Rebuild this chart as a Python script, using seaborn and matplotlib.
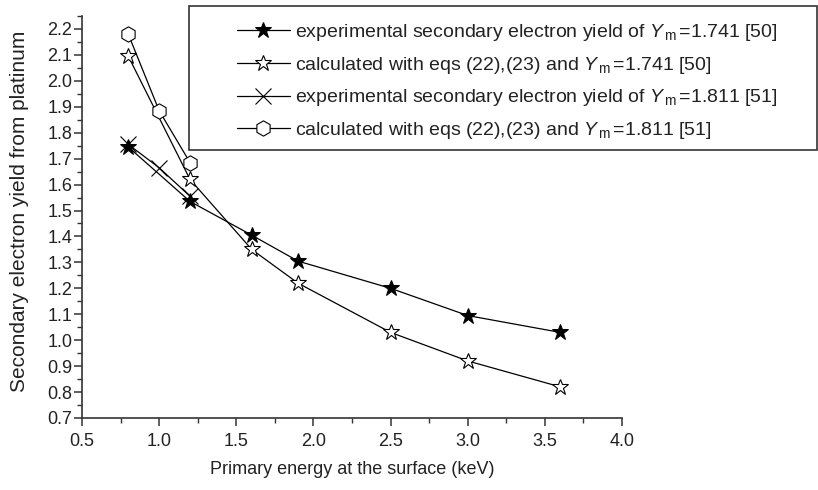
import numpy as np
import pandas as pd
import matplotlib
matplotlib.use("Agg")
import matplotlib.pyplot as plt
from matplotlib.patches import Rectangle
from matplotlib.ticker import MultipleLocator
import seaborn as sns

# ---- data ----
energy_exp_1741 = [0.8, 1.2, 1.6, 1.9, 2.5, 3.0, 3.6]
yield_exp_1741 = [1.745, 1.535, 1.405, 1.305, 1.20, 1.095, 1.03]
energy_calc_1741 = [0.8, 1.2, 1.6, 1.9, 2.5, 3.0, 3.6]
yield_calc_1741 = [2.095, 1.62, 1.35, 1.22, 1.03, 0.92, 0.82]
energy_exp_1811 = [0.8, 1.0, 1.2]
yield_exp_1811 = [1.755, 1.665, 1.555]
energy_calc_1811 = [0.8, 1.0, 1.2]
yield_calc_1811 = [2.18, 1.885, 1.685]

labels = [
    r"experimental secondary electron yield of $Y_{\,\mathrm{m}}\,$=1.741 [50]",
    r"calculated with eqs (22),(23) and $Y_{\,\mathrm{m}}\,$=1.741 [50]",
    r"experimental secondary electron yield of $Y_{\,\mathrm{m}}\,$=1.811 [51]",
    r"calculated with eqs (22),(23) and $Y_{\,\mathrm{m}}\,$=1.811 [51]",
]
x_ticks = [0.5, 1.0, 1.5, 2.0, 2.5, 3.0, 3.5, 4.0]
y_ticks = [0.7, 0.8, 0.9, 1.0, 1.1, 1.2, 1.3, 1.4, 1.5, 1.6, 1.7, 1.8, 1.9, 2.0, 2.1, 2.2]

sns.set_theme(style="ticks")
plt.rcParams["font.family"] = ["Liberation Sans", "DejaVu Sans"]
plt.rcParams["mathtext.fontset"] = "custom"
plt.rcParams["mathtext.rm"] = "Liberation Sans"
plt.rcParams["mathtext.it"] = "Liberation Sans:italic"

fig = plt.figure(figsize=(8.18, 4.9), dpi=100)
ax = fig.add_axes([82 / 818, 1 - 418 / 490, 540 / 818, 402 / 490])

series = [
    (energy_exp_1741, yield_exp_1741, dict(marker="*", markersize=12, markerfacecolor="black", markeredgecolor="black")),
    (energy_calc_1741, yield_calc_1741, dict(marker="*", markersize=12, markerfacecolor="white", markeredgecolor="black", markeredgewidth=0.8)),
    (energy_exp_1811, yield_exp_1811, dict(marker="x", markersize=12, markeredgecolor="black", markeredgewidth=0.8)),
    (energy_calc_1811, yield_calc_1811, dict(marker="h", markersize=11, markerfacecolor="white", markeredgecolor="black", markeredgewidth=0.8)),
]
for (xs, ys, style), lab in zip(series, labels):
    df = pd.DataFrame({"E": xs, "Y": ys})
    sns.lineplot(data=df, x="E", y="Y", ax=ax, color="black", linewidth=0.9,
                 sort=False, estimator=None, label=lab, **style)

ax.set_xlim(0.5, 4.0)
ax.set_ylim(0.7, 2.25)
ax.set_xticks(x_ticks)
ax.set_xticklabels([f"{v:.1f}" for v in x_ticks])
ax.set_yticks(y_ticks)
ax.set_yticklabels([f"{v:.1f}" for v in y_ticks])
ax.xaxis.set_minor_locator(MultipleLocator(0.25))
ax.yaxis.set_minor_locator(MultipleLocator(0.05))
for s in ["top", "right"]:
    ax.spines[s].set_visible(False)
for s in ["left", "bottom"]:
    ax.spines[s].set_color("#333333")
    ax.spines[s].set_linewidth(1.2)
ax.tick_params(axis="both", which="major", direction="out", length=6, width=1.1,
               color="#333333", labelsize=13, labelcolor="#222222")
ax.tick_params(axis="both", which="minor", direction="out", length=3.5, width=1.0, color="#333333")
ax.tick_params(axis="y", which="major", pad=1)
ax.tick_params(axis="x", which="major", pad=5)

ax.set_xlabel("Primary energy at the surface (keV)", fontsize=13, color="#222222", labelpad=8)
ax.set_ylabel("Secondary electron yield from platinum", fontsize=15, color="#222222")
ax.yaxis.set_label_coords(-0.098, 0.515)

handles, labs = ax.get_legend_handles_labels()
if ax.legend_ is not None:
    ax.legend_.remove()
fig.patches.append(Rectangle((189 / 818, 1 - 150 / 490), (817 - 189) / 818, 144 / 490,
                             transform=fig.transFigure, fill=False, edgecolor="#333333",
                             linewidth=1.2, zorder=5))
leg = fig.legend(handles, labs, loc="upper left", bbox_to_anchor=(237 / 818, 1 - 22 / 490),
                 frameon=False, fontsize=14, borderpad=0, borderaxespad=0,
                 handlelength=2.7, handletextpad=0.26, labelspacing=0.6)
for t in leg.get_texts():
    t.set_color("#222222")

fig.savefig("out.png", dpi=100)
